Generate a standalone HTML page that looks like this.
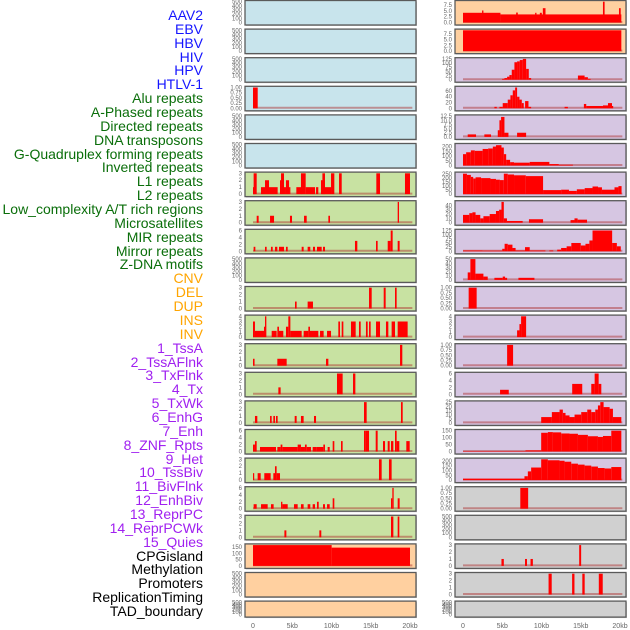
<!DOCTYPE html>
<html><head><meta charset="utf-8">
<style>
html,body{margin:0;padding:0;background:#fff;}
#wrap{position:relative;width:630px;height:630px;overflow:hidden;font-family:"Liberation Sans",sans-serif;}
.lab{position:absolute;right:427px;font-size:14px;line-height:14px;white-space:nowrap;text-align:right;}
svg{position:absolute;left:0;top:0;}
</style></head>
<body>
<div id="wrap">
<div id="labels"></div>
<svg id="chart" width="630" height="630"></svg>
</div>
<script>
// ---- data ----
const labelNames = ["AAV2","EBV","HBV","HIV","HPV","HTLV-1","Alu repeats","A-Phased repeats","Directed repeats","DNA transposons","G-Quadruplex forming repeats","Inverted repeats","L1 repeats","L2 repeats","Low_complexity A/T rich regions","Microsatellites","MIR repeats","Mirror repeats","Z-DNA motifs","CNV","DEL","DUP","INS","INV","1_TssA","2_TssAFlnk","3_TxFlnk","4_Tx","5_TxWk","6_EnhG","7_Enh","8_ZNF_Rpts","9_Het","10_TssBiv","11_BivFlnk","12_EnhBiv","13_ReprPC","14_ReprPCWk","15_Quies","CPGisland","Methylation","Promoters","ReplicationTiming","TAD_boundary"];
const labelColors = ["#1515ff","#1515ff","#1515ff","#1515ff","#1515ff","#1515ff","#0a6e0a","#0a6e0a","#0a6e0a","#0a6e0a","#0a6e0a","#0a6e0a","#0a6e0a","#0a6e0a","#0a6e0a","#0a6e0a","#0a6e0a","#0a6e0a","#0a6e0a","#ffa500","#ffa500","#ffa500","#ffa500","#ffa500","#a020f0","#a020f0","#a020f0","#a020f0","#a020f0","#a020f0","#a020f0","#a020f0","#a020f0","#a020f0","#a020f0","#a020f0","#a020f0","#a020f0","#a020f0","#000","#000","#000","#000","#000"];
const xTicks = [0,5,10,15,20];
const xTickLabels = ["0","5kb","10kb","15kb","20kb"];
const T500=[0,100,200,300,400,500], T1=[0,0.25,0.5,0.75,1], T3=[0,1,2,3], T6=[0,2,4,6], T4=[0,1,2,3,4];
// each panel: bg, ticks, ymax, bars [startKb,endKb,value]
const leftPanels = [
 {bg:"b",ticks:T500,ymax:500,bars:[]},
 {bg:"b",ticks:T500,ymax:500,bars:[]},
 {bg:"b",ticks:T500,ymax:500,bars:[]},
 {bg:"b",ticks:T1,ymax:1,bars:[[0,0.6,1]]},
 {bg:"b",ticks:T500,ymax:500,bars:[]},
 {bg:"b",ticks:T500,ymax:500,bars:[]},
 {bg:"g",ticks:T3,ymax:3,bars:[[0,0.25,1],[0.08,0.47,3],[1.02,1.53,1],[1.53,2.04,2],[2.04,3.14,1],[3.44,3.57,2],[3.57,3.95,3],[3.95,4.2,1],[4.2,4.59,2],[4.59,4.76,1],[5.52,6.2,1],[6.11,6.71,3],[6.71,7.9,1],[8.03,8.32,1],[8.66,9.17,2],[8.84,9.17,3],[9.17,9.94,1],[9.94,10.36,3],[10.96,11.3,3],[15.71,16.18,3],[19.36,20.0,3]]},
 {bg:"g",ticks:T3,ymax:3,bars:[[0.47,0.72,1],[2.17,2.68,1],[4.71,4.97,1],[6.5,6.84,1],[9.6,9.81,1],[18.43,18.6,3]]},
 {bg:"g",ticks:T6,ymax:6,bars:[[0.08,0.3,1.3],[1.53,1.74,1.3],[2.29,2.51,1.3],[2.8,3.1,1.3],[3.31,3.95,1.3],[4.2,4.42,1.3],[6.2,6.45,1.3],[6.96,7.3,1.3],[7.64,7.9,1.3],[8.15,8.75,1.3],[8.92,9.17,1.3],[12.99,13.29,3],[15.67,15.88,3],[17.16,17.54,3],[17.54,17.79,6],[18.43,18.68,3]]},
 {bg:"g",ticks:T500,ymax:500,bars:[]},
 {bg:"g",ticks:T3,ymax:3,bars:[[5.35,5.56,1],[6.96,7.64,1],[14.78,15.12,3],[16.65,16.9,3],[18.09,18.3,3]]},
 {bg:"g",ticks:T4,ymax:4,bars:[[0,0.25,3],[0.25,1.4,1.2],[1.4,1.53,2],[1.53,1.7,4],[2.38,3.01,1.2],[3.1,3.31,2],[3.31,3.86,1.2],[4.2,4.5,2],[4.5,4.76,4],[4.76,6.2,1.2],[6.45,7.05,1.2],[7.05,7.26,2],[7.26,8.32,1.2],[8.54,9.0,1.2],[9.43,9.94,1.2],[10.87,11.08,3],[11.3,11.51,3],[12.48,13.08,3],[13.5,13.72,3],[14.39,14.61,3],[14.78,14.99,3],[15.67,16.18,3],[16.94,17.24,3],[17.66,18.09,3],[18.43,19.7,3]]},
 {bg:"g",ticks:T3,ymax:3,bars:[[0,0.2,1],[3.1,4.29,1],[9.3,9.6,1],[18.73,19.02,3]]},
 {bg:"g",ticks:T3,ymax:3,bars:[[3.23,3.52,1],[10.7,11.42,3],[12.74,13.04,3]]},
 {bg:"g",ticks:T3,ymax:3,bars:[[0.25,0.55,1],[2.17,2.38,1],[2.59,2.8,1],[2.93,3.14,1],[5.31,5.56,1],[6.11,6.45,1],[7.77,8.03,1],[14.14,14.48,3],[18.85,19.07,3]]},
 {bg:"g",ticks:T6,ymax:6,bars:[[0,0.25,2],[0.25,0.47,3],[0.89,2.93,1.3],[3.1,3.52,1.3],[3.52,3.74,2],[3.74,5.69,1.3],[5.69,6.11,2],[6.11,6.62,1.3],[6.62,6.84,2],[6.84,7.39,1.3],[7.6,8.11,1.3],[8.11,8.96,1.3],[8.96,9.17,2],[9.51,9.77,1.3],[10.15,10.36,3],[11.21,11.42,3],[14.14,14.35,6],[14.35,14.78,6],[15.63,15.88,6],[16.56,16.82,3],[17.16,17.41,3],[17.58,17.88,3],[18.09,18.3,6],[18.3,18.64,3],[19.53,19.96,3]]},
 {bg:"g",ticks:T3,ymax:3,bars:[[0,0.1,1],[0.59,0.98,1],[1.44,2.25,1],[2.59,2.89,1],[2.8,3.01,2],[3.01,3.44,1],[16.05,16.39,3],[17.32,17.66,3]]},
 {bg:"g",ticks:T6,ymax:6,bars:[[0.08,0.47,1.3],[1.02,1.87,1.3],[2.29,2.63,1.3],[3.57,3.74,2],[3.74,4.42,1.3],[5.22,5.69,1.3],[6.11,6.45,1.3],[6.96,7.3,1.3],[7.6,7.9,1.3],[8.15,8.37,2],[8.92,9.17,1.3],[9.43,9.77,1.3],[10.15,10.36,3],[17.58,17.75,3],[17.75,17.92,6],[18.43,18.68,3]]},
 {bg:"g",ticks:T3,ymax:3,bars:[[4.0,4.25,1],[8.45,8.7,1],[17.58,17.88,3],[18.43,18.64,3]]},
 {bg:"o",ticks:[0,50,100,150],ymax:165,bars:[[0,10.02,165],[10.02,20.0,145]]},
 {bg:"o",ticks:T500,ymax:500,bars:[]},
 {bg:"o",ticks:T500,ymax:500,bars:[]}
];
const rightPanels = [
 {bg:"o",ticks:[0,2.5,5,7.5],ymax:9,bars:[[0,4.77,4.2],[4.77,20.17,3.5],[2.43,2.6,5.2],[6.77,6.98,4.3],[9.19,9.36,4.2],[9.79,10.04,4.2],[10.17,10.51,6.2],[17.83,18.04,9],[19.87,20.09,6.2]]},
 {bg:"o",ticks:[0,2.5,5,7.5],ymax:9,bars:[[0,20.17,9]]},
 {bg:"p",ticks:[0,25,50,75,100,125],ymax:125,bars:[[4.98,5.28,5],[5.28,5.62,10],[5.62,5.91,18],[5.91,6.21,28],[6.21,6.55,60],[6.55,6.89,105],[6.89,7.23,110],[7.23,7.62,118],[7.62,8.04,125],[8.04,8.38,65],[8.38,8.68,10],[14.64,15.49,25],[15.49,15.91,15],[15.91,16.26,5]]},
 {bg:"p",ticks:[0,20,40,60],ymax:72,bars:[[4.0,4.3,5],[4.64,5.06,5],[5.06,5.7,18],[5.7,6.04,30],[6.04,6.34,45],[6.34,6.64,62],[6.64,6.89,72],[6.89,7.19,40],[7.19,7.49,30],[7.49,7.74,18],[7.91,8.34,25],[8.34,8.68,5],[12.94,13.36,5],[15.4,15.7,15],[15.7,17.83,8],[17.83,18.47,10],[18.47,18.98,18],[18.98,19.1,8]]},
 {bg:"p",ticks:[0,2.5,5,7.5,10,12.5],ymax:12.5,bars:[[0.6,1.66,1.5],[2.72,3.57,1.5],[4.43,4.64,4],[4.64,4.85,10],[4.85,5.28,12],[5.28,5.79,2.5],[6.89,8.04,2.5]]},
 {bg:"p",ticks:[0,50,100,150,200],ymax:220,bars:[[0,0.4,120],[0.4,1,140],[1,1.5,160],[1.5,2.5,155],[2.5,3.2,175],[3.2,3.8,180],[3.8,4.2,200],[4.2,4.9,215],[4.9,5.2,190],[5.2,5.5,120],[5.5,6,60],[6,6.5,35],[6.5,8.5,30],[8.5,11,38],[11,12.2,15],[12.2,14,8]]},
 {bg:"p",ticks:[0,50,100,150,200,250],ymax:260,bars:[[0,0.5,255],[0.5,1,240],[1,1.3,215],[1.3,1.6,195],[1.6,2.3,210],[2.3,3.5,200],[3.5,4.2,190],[4.2,4.7,180],[4.7,5.2,175],[5.2,5.7,255],[5.7,6.5,245],[6.5,8,235],[8,10.2,225],[10.2,12.5,50],[12.5,13.5,55],[13.5,14.5,40],[14.5,15.5,60],[15.5,16.5,75],[16.5,17.2,95],[17.2,17.7,85],[17.7,19.3,55],[19.3,19.8,85],[19.8,20.2,100]]},
 {bg:"p",ticks:[0,10,20,30,40],ymax:48,bars:[[0,0.8,18],[0.8,1.2,22],[1.2,1.6,24],[1.6,2.2,18],[2.2,2.6,10],[2.6,3.4,15],[3.4,4.2,20],[4.2,4.6,27],[4.6,4.9,30],[4.9,5.2,48],[5.2,5.6,10],[5.6,7.6,4],[8.4,10.2,8],[13.7,14.2,6],[14.2,14.6,10],[14.6,15.8,7]]},
 {bg:"p",ticks:[0,25,50,75,100,125],ymax:125,bars:[[0,2.5,5],[2.5,5,4],[5,5.3,15],[5.3,5.7,45],[5.7,6.3,40],[6.3,6.7,20],[6.7,7.9,5],[7.9,8.5,25],[8.5,10.5,5],[11,11.5,5],[12,12.5,10],[12.5,13.2,20],[13.2,13.8,30],[13.8,15,50],[15,15.6,35],[15.6,16.1,45],[16.1,16.5,65],[16.5,19,125],[19,19.6,50],[19.6,20.1,30]]},
 {bg:"p",ticks:[0,10,20,30,40,50],ymax:50,bars:[[0.6,0.94,18],[0.94,1.58,50],[1.58,2.6,15],[2.6,3.15,8],[4.0,5.06,5],[5.06,5.36,8],[5.36,5.62,5],[7.06,9.1,5]]},
 {bg:"p",ticks:T1,ymax:1,bars:[[0.72,1.74,1]]},
 {bg:"p",ticks:T4,ymax:4,bars:[[6.89,7.19,1.3],[7.19,7.4,2.5],[7.4,8.04,4]]},
 {bg:"p",ticks:T1,ymax:1,bars:[[5.62,6.38,1]]},
 {bg:"p",ticks:T6,ymax:6,bars:[[4.72,5.83,1.3],[13.91,15.19,3],[16.34,16.77,3],[16.77,17.28,6],[17.28,17.62,3]]},
 {bg:"p",ticks:[0,5,10,15,20,25],ymax:25,bars:[[9.96,11.32,7],[11.32,12.3,13],[12.3,12.72,16],[12.72,13.06,12],[13.06,13.57,9],[13.57,14.21,7],[14.21,15.06,10],[15.06,15.83,13],[15.83,16.34,16],[16.34,16.85,13],[16.85,17.19,16],[17.19,17.49,21],[17.49,17.91,25],[17.91,18.68,19],[18.68,19.1,17],[19.1,20.17,7]]},
 {bg:"p",ticks:[0,50,100,150],ymax:150,bars:[[0,7.96,3],[7.96,9.96,8],[9.96,10.81,135],[10.81,11.45,140],[11.45,12.51,138],[12.51,13.57,130],[13.57,14.64,128],[14.64,15.91,120],[15.91,17.19,110],[17.19,17.83,105],[17.83,18.89,112],[18.89,20.17,150]]},
 {bg:"p",ticks:[0,50,100,150,200],ymax:215,bars:[[0,7.83,15],[7.83,8.26,40],[8.26,8.68,90],[8.68,9.96,130],[9.96,10.81,215],[10.81,12.3,205],[12.3,12.94,200],[12.94,13.79,190],[13.79,14.64,170],[14.64,15.49,160],[15.49,16.34,150],[16.34,17.19,140],[17.19,18.04,125],[18.04,18.89,120],[18.89,20.17,135]]},
 {bg:"k",ticks:T1,ymax:1,bars:[[7.3,8.3,1]]},
 {bg:"k",ticks:T500,ymax:500,bars:[]},
 {bg:"k",ticks:T3,ymax:3,bars:[[4.9,5.2,1],[7.9,8.15,1],[8.6,8.9,1],[14.8,15.05,3]]},
 {bg:"k",ticks:T3,ymax:3,bars:[[10.9,11.3,3],[13.9,14.2,3],[15.2,15.5,3],[17.3,17.8,3]]},
 {bg:"k",ticks:T500,ymax:500,bars:[]}
];
// ---- render ----
const BG={b:"#c8e4ec",g:"#c8e2a2",o:"#ffd0a0",p:"#d6c6e2",k:"#d0d0d0"};
const NS="http://www.w3.org/2000/svg";
const svg=document.getElementById('chart');
function mk(tag,attrs,parent){const e=document.createElementNS(NS,tag);for(const k in attrs)e.setAttribute(k,attrs[k]);(parent||svg).appendChild(e);return e;}
const labDiv=document.getElementById('labels');
labelNames.forEach((n,i)=>{
 const d=document.createElement('div');d.className='lab';
 d.style.top=(8+i*13.86)+'px';d.style.color=labelColors[i];d.textContent=n;
 
 
 labDiv.appendChild(d);
});
const PITCH=28.6;
function xScale(colX0,kb){return colX0+kb*(157/20);}
function fmt(v,ticks){const dec=ticks.some(t=>t%1!==0);if(ticks===T1)return v.toFixed(2);return dec?v.toFixed(1):String(v);}
function drawCol(panels,px,pw,zeroX,tickX,side){
 panels.forEach((p,i)=>{
  const top=i*PITCH+0.5, h=(i===21)?16:24.5, bot=top+h;
  const g=mk('g',{});
  
  
  mk('rect',{x:px+1,y:top+1,width:pw,height:h,fill:'#999',opacity:0.5},g);
  mk('rect',{x:px,y:top,width:pw,height:h,fill:BG[p.bg],stroke:'#5a5a5a','stroke-width':1.3},g);
  const y0=bot-2.5, yT=top+1.2;
  const ys=v=>y0-(v/p.ymax)*(y0-yT);
  p.ticks.forEach(t=>{
   const tx=mk('text',{x:tickX,y:ys(t)+2,'font-size':6,fill:'#666','text-anchor':'end','font-family':'Liberation Sans, sans-serif'},g);
   tx.textContent=fmt(t,p.ticks);
  });
  if(p.bars.length){
   mk('line',{x1:xScale(zeroX,0),x2:xScale(zeroX,20.3),y1:y0-0.5,y2:y0-0.5,stroke:'rgba(170,40,40,0.45)','stroke-width':2},g);
  }
  p.bars.forEach(b=>{
   const x1=xScale(zeroX,b[0]),x2=xScale(zeroX,b[1]);
   const r=mk('rect',{x:x1,y:ys(b[2]),width:Math.max(1.2,x2-x1),height:y0-ys(b[2]),fill:'#ff0000'},g);
   
   
  });
 });
 xTicks.forEach((t,k)=>{
  const tx=mk('text',{x:xScale(zeroX,t),y:628,'font-size':7,fill:'#666','text-anchor':'middle','font-family':'Liberation Sans, sans-serif'});
  tx.textContent=xTickLabels[k];
  
  
 });
}
drawCol(leftPanels,245,171,253,242,'left');
drawCol(rightPanels,455,171,463,452,'right');
</script>
</body></html>
